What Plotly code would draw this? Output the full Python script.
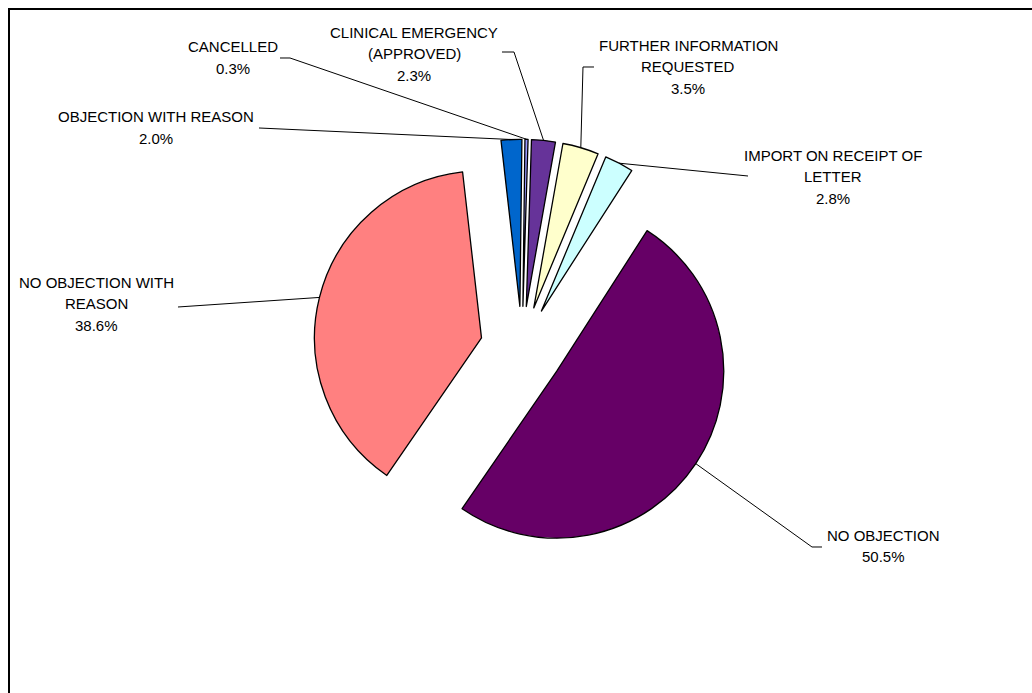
import math
import plotly.graph_objects as go

# ---------------- data ----------------
categories = [
    "OBJECTION WITH REASON",
    "CANCELLED",
    "CLINICAL EMERGENCY (APPROVED)",
    "FURTHER INFORMATION REQUESTED",
    "IMPORT ON RECEIPT OF LETTER",
    "NO OBJECTION",
    "NO OBJECTION WITH REASON",
]
percent_values = [2.0, 0.3, 2.3, 3.5, 2.8, 50.5, 38.6]
label_lines = [
    ["OBJECTION WITH REASON"],
    ["CANCELLED"],
    ["CLINICAL EMERGENCY", "(APPROVED)"],
    ["FURTHER INFORMATION", "REQUESTED"],
    ["IMPORT ON RECEIPT OF", "LETTER"],
    ["NO OBJECTION"],
    ["NO OBJECTION WITH", "REASON"],
]

# ---------------- styles / layout ----------------
colors = ["#0066CC", "#9999FF", "#663399", "#FFFFCC", "#CCFFFF", "#660066", "#FF8080"]
W, H = 1032, 693
FRAME = 8                    # frame offset (px)
CX, CY = 522, 348            # pie centre (px)
R = 167                      # pie radius (px)
PULL = 0.25
ROTATION = -6.5
FONT = dict(family="Liberation Sans, Arial, sans-serif", size=15, color="#000000")
LINE_GAP = 21.5

# label centre x, first line centre y, leader-line points on the label side (px)
label_layout = [
    (156, 117, [(259, 128)]),
    (233, 47, [(280, 58), (290, 58)]),
    (414, 32, [(502, 52), (514, 52)]),
    (688, 45, [(594, 67), (583, 67)]),
    (833, 155, [(748, 176)]),
    (883, 535, [(822, 547), (812, 547)]),
    (96, 282, [(178, 307)]),
]


def px(x):
    return x / W


def py(y):
    return 1 - y / H


outer = R * (1 + PULL)
dom_x = [px(CX - outer), px(CX + outer)]
dom_y = [py(CY + outer), py(CY - outer)]

fig = go.Figure(
    go.Pie(
        labels=categories,
        values=percent_values,
        sort=False,
        direction="clockwise",
        rotation=ROTATION,
        pull=[PULL] * len(percent_values),
        marker=dict(colors=colors, line=dict(color="#000000", width=1.3)),
        textinfo="none",
        hoverinfo="label+percent",
        showlegend=False,
        domain=dict(x=dom_x, y=dom_y),
    )
)

annotations = []
shapes = []
total = sum(percent_values)
start = ROTATION
for cat, val, lines, (lx, ly, pts) in zip(categories, percent_values, label_lines, label_layout):
    span = 360.0 * val / total
    mid = math.radians(start + span / 2)
    start += span
    ex = CX + outer * math.sin(mid)
    ey = CY - outer * math.cos(mid)
    texts = lines + [f"{val:.1f}%"]
    for i, t in enumerate(texts):
        annotations.append(dict(
            text=t, x=px(lx), y=py(ly + i * LINE_GAP), xref="paper", yref="paper",
            xanchor="center", yanchor="middle", showarrow=False, font=FONT,
        ))
    path_pts = pts + [(ex, ey)]
    path = "M " + " L ".join(f"{px(a):.5f},{py(b):.5f}" for a, b in path_pts)
    shapes.append(dict(type="path", path=path, xref="paper", yref="paper",
                       line=dict(color="#000000", width=1)))

# chart frame (top and left edges visible)
shapes.append(dict(type="line", xref="paper", yref="paper", x0=px(FRAME), x1=1,
                   y0=py(FRAME + 1), y1=py(FRAME + 1), line=dict(color="#000000", width=2)))
shapes.append(dict(type="line", xref="paper", yref="paper", x0=px(FRAME + 1), x1=px(FRAME + 1),
                   y0=0, y1=py(FRAME), line=dict(color="#000000", width=2)))

fig.update_layout(
    width=W, height=H,
    margin=dict(l=0, r=0, t=0, b=0),
    paper_bgcolor="#FFFFFF",
    plot_bgcolor="#FFFFFF",
    annotations=annotations,
    shapes=shapes,
    font=FONT,
)

fig.write_html(
    "out.html",
    config={"displayModeBar": False},
    post_script=(
        "document.body.style.margin='0';"
        "document.documentElement.style.overflow='hidden';"
        "document.body.style.overflow='hidden';"
    ),
)
